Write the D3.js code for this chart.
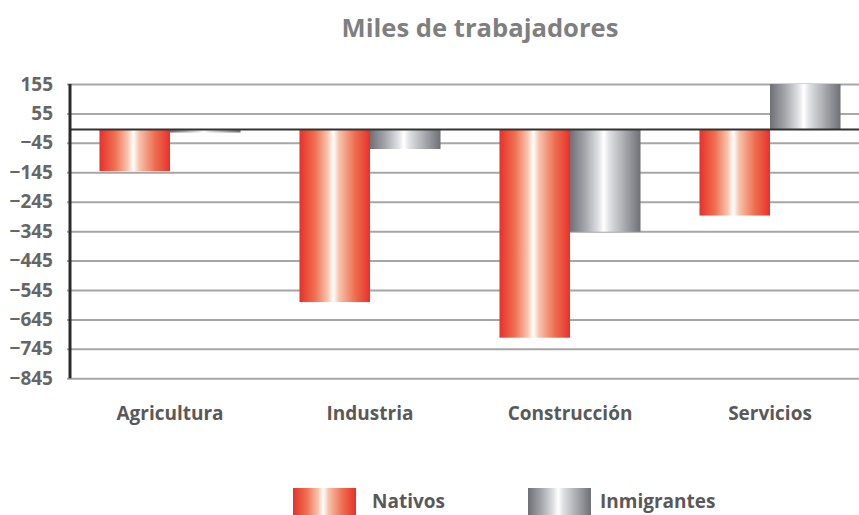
<!DOCTYPE html>
<html><head><meta charset="utf-8">
<script src="https://cdn.jsdelivr.net/npm/d3@7"></script>
<style>body{margin:0;background:#fff}svg{display:block}</style>
</head><body><svg id="c" width="859" height="515"></svg>
<script>
const categories = ["Agricultura","Industria","Construcción","Servicios"];
const seriesNames = ["Nativos","Inmigrantes"];
const nativos = [-141, -586, -707, -292];
const inmigrantes = [-10, -66, -347, 155];
const tickValues = [155,55,-45,-145,-245,-345,-445,-545,-645,-745,-845];

(function(){
const svg = d3.select("#c");
const W=859,H=515;
const mLeft=70, mTop=84, mBottom=378.3;
const y = d3.scaleLinear().domain([-845,155]).range([mBottom, mTop]);
const x0 = d3.scaleBand().domain(categories).range([mLeft, mLeft+800]).padding(0);
const x1 = d3.scaleBand().domain(seriesNames).range([0, x0.bandwidth()]).paddingInner(0).paddingOuter(0.418);

const defs = svg.append("defs");
function grad(id, edge, mid, light){
  const g = defs.append("linearGradient").attr("id",id).attr("x1","0").attr("x2","1").attr("y1","0").attr("y2","0");
  [[0,edge],[0.22,mid],[0.4,light],[0.48,"#ffffff"],[0.56,light],[0.78,mid],[1,edge]].forEach(s=>g.append("stop").attr("offset",s[0]).attr("stop-color",s[1]));
}
grad("gN","#e8302a","#ee7052","#f8c4ad");
grad("gI","#6f7075","#a6a8ad","#dfe0e3");
const fills = {Nativos:"url(#gN)", Inmigrantes:"url(#gI)"};
const ff = "Open Sans, Lato, sans-serif";

svg.append("text").attr("x",480).attr("y",37).attr("text-anchor","middle")
  .attr("font-family",ff).attr("font-weight","bold").attr("font-size",25.6)
  .attr("fill","#7f7f7f").text("Miles de trabajadores");

const yAxis = d3.axisLeft(y).tickValues(tickValues).tickSize(-(W-mLeft)).tickPadding(10).tickSizeOuter(0);
const ga = svg.append("g").attr("transform",`translate(${mLeft},0)`).call(yAxis);
ga.select(".domain").remove();
ga.selectAll(".tick line").attr("stroke","#a6a6a6").attr("stroke-width",2).attr("x1",-3);
ga.selectAll(".tick text").attr("font-family",ff).attr("font-weight","bold")
  .attr("font-size",19).attr("fill","#666").attr("x",-17);

const data = categories.map((c,i)=>({c, vals:[{s:"Nativos",v:nativos[i]},{s:"Inmigrantes",v:inmigrantes[i]}]}));
const gg = svg.append("g");
data.forEach(d=>{
  d.vals.forEach(e=>{
    gg.append("rect").attr("x", x0(d.c)+x1(e.s)).attr("width", x1.bandwidth())
      .attr("y", y(Math.max(0,e.v))).attr("height", Math.abs(y(e.v)-y(0)))
      .attr("fill", fills[e.s]);
  });
});

svg.append("line").attr("x1",mLeft).attr("x2",W).attr("y1",y(0)).attr("y2",y(0)).attr("stroke","#333").attr("stroke-width",2);
svg.append("line").attr("x1",mLeft).attr("x2",mLeft).attr("y1",mTop).attr("y2",mBottom).attr("stroke","#2b2b2b").attr("stroke-width",3);

const xAxis = d3.axisBottom(x0).tickSize(0).tickPadding(0);
const gx = svg.append("g").attr("transform",`translate(0,${mBottom+42})`).call(xAxis);
gx.select(".domain").remove();
gx.selectAll("text").attr("font-family",ff).attr("font-weight","bold")
  .attr("font-size",19).attr("fill","#595959").attr("dy","0");

const leg = [{s:"Nativos",x:293,tx:372},{s:"Inmigrantes",x:528,tx:600}];
leg.forEach(l=>{
  svg.append("rect").attr("x",l.x).attr("y",488).attr("width",63).attr("height",27).attr("fill",fills[l.s]);
  svg.append("text").attr("x",l.tx).attr("y",508).attr("font-family",ff)
    .attr("font-weight","bold").attr("font-size",19).attr("fill","#595959").text(l.s);
});
})();
</script></body></html>
